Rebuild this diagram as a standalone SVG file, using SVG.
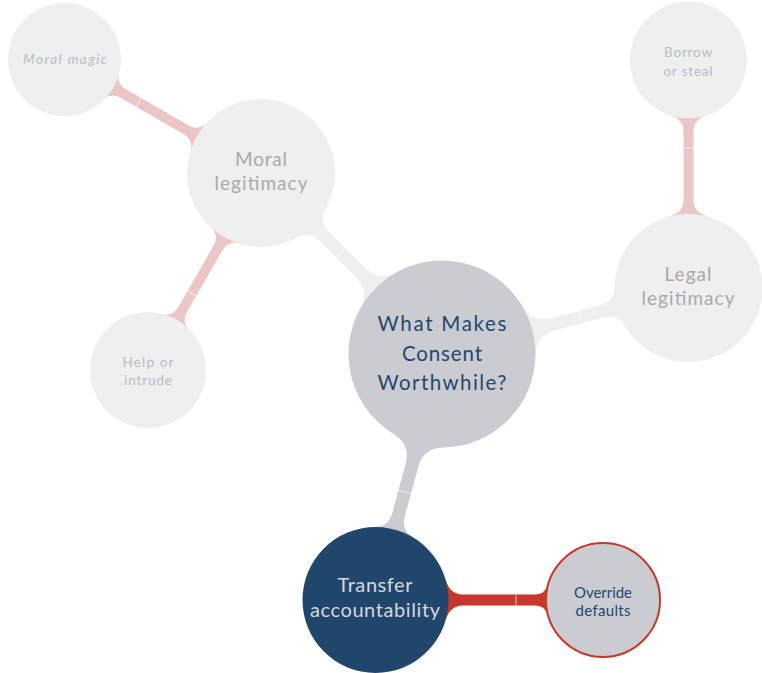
<svg xmlns="http://www.w3.org/2000/svg" width="762" height="673" viewBox="0 0 762 673">
<style>
.light{fill:#efefef}
.pink{fill:#ecc5c5}
.gray{fill:#cbccd1}
.red{fill:#c8372d}
.seam{stroke:#ffffff;stroke-width:0.8;stroke-opacity:0.8}
text{font-family:Lato,"Open Sans","DejaVu Sans",sans-serif;text-anchor:middle}
.big{font-size:20.5px;fill:#24476e}
.mid{font-size:19px;fill:#a9a9a9}
.leaf{font-size:13.5px;fill:#b3bdcb}
.tr{font-size:20px;fill:#d5d7dc}
.ov{font-size:15px;fill:#24476e}
</style>
<rect width="762" height="673" fill="#ffffff"/>
<g id="connectors">
  <g transform="translate(442,354) rotate(225)">
    <path class="light" d="M89.81,-26 Q95.46,-6.5 115.46,-6.5 L166.93,-6.5 Q180.93,-6.5 184.72,-20 L184.72,20 Q180.93,6.5 166.93,6.5 L115.46,6.5 Q95.46,6.5 89.81,26 Z"/>
    <line class="seam" x1="143" y1="-6.5" x2="143" y2="6.5"/>
  </g>
  <g transform="translate(442,354) rotate(-14.96)">
    <path class="light" d="M89.81,-26 Q95.46,-6.5 115.46,-6.5 L166.63,-6.5 Q180.63,-6.5 184.42,-20 L184.42,20 Q180.63,6.5 166.63,6.5 L115.46,6.5 Q95.46,6.5 89.81,26 Z"/>
    <line class="seam" x1="143" y1="-6.5" x2="143" y2="6.5"/>
  </g>
  <g transform="translate(442,354) rotate(105.13)">
    <path class="gray" d="M89.81,-26 Q95.46,-6.5 115.46,-6.5 L166.77,-6.5 Q180.77,-6.5 184.62,-20 L184.62,20 Q180.77,6.5 166.77,6.5 L115.46,6.5 Q95.46,6.5 89.81,26 Z"/>
    <line class="seam" x1="143" y1="-6.5" x2="143" y2="6.5"/>
  </g>
  <g transform="translate(261,173) rotate(210)">
    <path class="pink" d="M72.25,-16 Q74.69,-5 86.69,-5 L157.86,-5 Q169.86,-5 172.16,-14 L172.16,14 Q169.86,5 157.86,5 L86.69,5 Q74.69,5 72.25,16 Z"/>
    <line class="seam" x1="141" y1="-5" x2="141" y2="5"/>
  </g>
  <g transform="translate(261,173) rotate(119.84)">
    <path class="pink" d="M72.25,-16 Q74.69,-5 86.69,-5 L156.58,-5 Q168.58,-5 170.82,-14 L170.82,14 Q168.58,5 156.58,5 L86.69,5 Q74.69,5 72.25,16 Z"/>
    <line class="seam" x1="139" y1="-5" x2="139" y2="5"/>
  </g>
  <g transform="translate(688.5,288) rotate(-90)">
    <path class="pink" d="M71.25,-20 Q75.46,-5 87.46,-5 L156.38,-5 Q168.38,-5 172.02,-17 L172.02,17 Q168.38,5 156.38,5 L87.46,5 Q75.46,5 71.25,20 Z"/>
    <line class="seam" x1="140" y1="-5" x2="140" y2="5"/>
  </g>
  <g transform="translate(375.5,600)">
    <path class="red" d="M70.21,-20 Q74.48,-5.5 87.5,-5.5 L159.06,-5.5 Q169.06,-5.5 171.09,-13.5 L171.09,13.5 Q169.06,5.5 159.06,5.5 L87.5,5.5 Q74.48,5.5 70.21,20 Z"/>
    <line class="seam" x1="140.5" y1="-5.5" x2="140.5" y2="5.5"/>
  </g>
</g>
<g id="node-center">
  <circle class="gray" cx="442" cy="354" r="93.5"/>
  <text class="big" x="442" y="331" textLength="129" lengthAdjust="spacing">What Makes</text>
  <text class="big" x="442" y="360.5" textLength="80" lengthAdjust="spacing">Consent</text>
  <text class="big" x="442" y="390" textLength="129" lengthAdjust="spacing">Worthwhile?</text>
</g>
<g id="node-moral">
  <circle class="light" cx="261" cy="173" r="74"/>
  <text class="mid" x="261" y="166" textLength="52" lengthAdjust="spacing">Moral</text>
  <text class="mid" x="261" y="190" textLength="93" lengthAdjust="spacing">legitimacy</text>
</g>
<g id="node-magic">
  <circle class="light" cx="64.5" cy="59.5" r="56.5"/>
  <text class="leaf" x="65" y="64" font-style="italic" textLength="84" lengthAdjust="spacing">Moral magic</text>
</g>
<g id="node-help">
  <circle class="light" cx="148" cy="370" r="58"/>
  <text class="leaf" x="148" y="367" textLength="51" lengthAdjust="spacing">Help or</text>
  <text class="leaf" x="148" y="385" textLength="48" lengthAdjust="spacing">intrude</text>
</g>
<g id="node-legal">
  <circle class="light" cx="688.5" cy="288" r="74"/>
  <text class="mid" x="688" y="281" textLength="47" lengthAdjust="spacing">Legal</text>
  <text class="mid" x="688" y="305" textLength="93" lengthAdjust="spacing">legitimacy</text>
</g>
<g id="node-borrow">
  <circle class="light" cx="688.5" cy="60" r="58.5"/>
  <text class="leaf" x="688" y="57" textLength="48" lengthAdjust="spacing">Borrow</text>
  <text class="leaf" x="688" y="76" textLength="49" lengthAdjust="spacing">or steal</text>
</g>
<g id="node-transfer">
  <circle cx="375.5" cy="600" r="73" fill="#20466b"/>
  <text class="tr" x="375" y="592" textLength="75" lengthAdjust="spacing">Transfer</text>
  <text class="tr" x="375" y="617" textLength="130" lengthAdjust="spacing">accountability</text>
</g>
<g id="node-override">
  <circle class="gray" cx="603" cy="600" r="57" stroke="#c8372d" stroke-width="2"/>
  <text class="ov" x="603" y="598" textLength="58" lengthAdjust="spacing">Override</text>
  <text class="ov" x="603" y="616" textLength="55" lengthAdjust="spacing">defaults</text>
</g>
</svg>
